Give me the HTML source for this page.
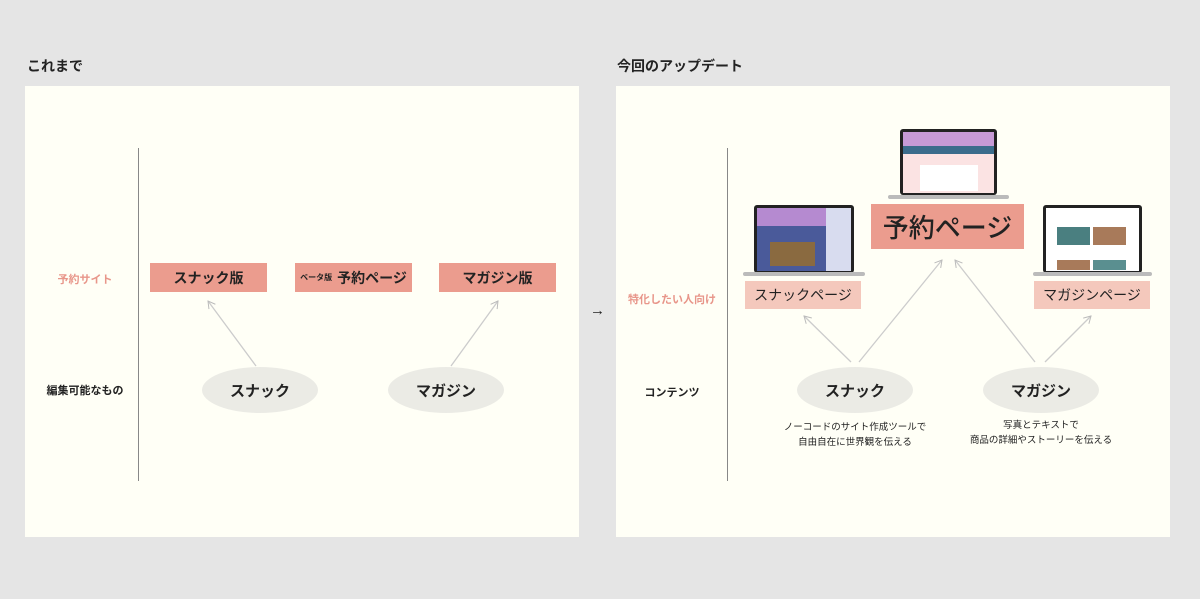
<!DOCTYPE html>
<html><head><meta charset="utf-8">
<style>
*{margin:0;padding:0;box-sizing:border-box}
body{width:1200px;height:599px;background:#e5e5e5;position:relative;overflow:hidden;font-family:"Liberation Sans","Noto Sans CJK JP",sans-serif;color:#222}
.a{position:absolute}
.panel{background:#fffff6}
.t{font-weight:bold;font-size:14px}
.box{display:flex;align-items:center;justify-content:center;font-weight:bold;font-size:14px;color:#222}
.d{background:#eb9c8e}
.l{background:#f4c8bc}
.el{background:#ebebe5;border-radius:50%;display:flex;align-items:center;justify-content:center;font-weight:bold;font-size:15px}
.lab{font-size:11px;font-weight:bold;text-align:center;width:120px}
.cap{font-size:9.5px;text-align:center;width:200px;line-height:15px;color:#222}
</style></head><body>
<div class="a t" style="left:27px;top:56px">これまで</div>
<div class="a t" style="left:617px;top:56px">今回のアップデート</div>
<div class="a panel" style="left:25px;top:86px;width:554px;height:451px"></div>
<div class="a panel" style="left:616px;top:86px;width:554px;height:451px"></div>
<div class="a" style="left:138px;top:148px;width:1px;height:333px;background:#888"></div>
<div class="a" style="left:727px;top:148px;width:1px;height:333px;background:#888"></div>

<div class="a lab" style="left:25px;top:271px;color:#e8968a">予約サイト</div>
<div class="a lab" style="left:25px;top:382px">編集可能なもの</div>
<div class="a lab" style="left:612px;top:291px;color:#e8968a">特化したい人向け</div>
<div class="a lab" style="left:612px;top:384px">コンテンツ</div>
<div class="a" style="left:590px;top:302px;font-size:15px;color:#222">→</div>

<div class="a box d" style="left:150px;top:263px;width:117px;height:29px">スナック版</div>
<div class="a box d" style="left:295px;top:263px;width:117px;height:29px"><span style="font-size:8px;margin-right:5px">ベータ版</span>予約ページ</div>
<div class="a box d" style="left:439px;top:263px;width:117px;height:29px">マガジン版</div>
<div class="a el" style="left:202px;top:367px;width:116px;height:46px">スナック</div>
<div class="a el" style="left:388px;top:367px;width:116px;height:46px">マガジン</div>

<div class="a box d" style="left:871px;top:204px;width:153px;height:45px;font-size:26px;font-weight:500">予約ページ</div>
<div class="a box l" style="left:745px;top:281px;width:116px;height:28px;font-weight:normal">スナックページ</div>
<div class="a box l" style="left:1034px;top:281px;width:116px;height:28px;font-weight:normal">マガジンページ</div>
<div class="a el" style="left:797px;top:367px;width:116px;height:46px">スナック</div>
<div class="a el" style="left:983px;top:367px;width:116px;height:46px">マガジン</div>
<div class="a cap" style="left:755px;top:420px">ノーコードのサイト作成ツールで<br>自由自在に世界観を伝える</div>
<div class="a cap" style="left:941px;top:418px">写真とテキストで<br>商品の詳細やストーリーを伝える</div>

<svg class="a" style="left:0;top:0" width="1200" height="599">
<defs><marker id="m" markerWidth="10" markerHeight="10" refX="9" refY="5" orient="auto" markerUnits="userSpaceOnUse"><path d="M2,1 L9,5 L2,9" fill="none" stroke="#bbb" stroke-width="1"/></marker></defs>
<g stroke="#ccc" stroke-width="1.3" fill="none" marker-end="url(#m)">
<line x1="256" y1="366" x2="208" y2="301"/>
<line x1="451" y1="366" x2="498" y2="301"/>
<line x1="851" y1="362" x2="804" y2="316"/>
<line x1="859" y1="362" x2="942" y2="260"/>
<line x1="1035" y1="362" x2="955" y2="260"/>
<line x1="1045" y1="362" x2="1091" y2="316"/>
</g>
<rect x="900" y="129" width="97" height="66" rx="3" fill="#222"/>
<rect x="903" y="132" width="91" height="61" fill="#fbe3e3"/>
<rect x="903" y="132" width="91" height="22" fill="#c79ad6"/>
<rect x="903" y="146" width="91" height="8" fill="#3b6c8c"/>
<rect x="920" y="165" width="58" height="26" fill="#fff"/>
<rect x="888" y="195" width="121" height="4" rx="2" fill="#bbb"/>
<rect x="754" y="205" width="100" height="68" rx="3" fill="#222"/>
<rect x="757" y="208" width="94" height="63" fill="#4a5a9a"/>
<rect x="757" y="208" width="94" height="18" fill="#b58ad0"/>
<rect x="826" y="208" width="25" height="63" fill="#d8dcef"/>
<rect x="770" y="242" width="45" height="24" fill="#8a6a40"/>
<rect x="743" y="272" width="122" height="4" rx="2" fill="#bbb"/>
<rect x="1043" y="205" width="99" height="68" rx="3" fill="#222"/>
<rect x="1046" y="208" width="93" height="63" fill="#fff"/>
<rect x="1057" y="227" width="33" height="18" fill="#4a7f80"/>
<rect x="1093" y="227" width="33" height="18" fill="#a87a5a"/>
<rect x="1057" y="260" width="33" height="10" fill="#a87a5a"/>
<rect x="1093" y="260" width="33" height="10" fill="#5a8f90"/>
<rect x="1033" y="272" width="119" height="4" rx="2" fill="#bbb"/>
</svg>
</body></html>
